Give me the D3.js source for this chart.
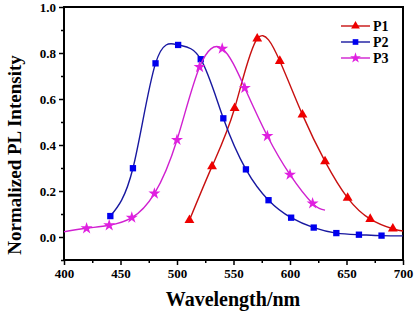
<!DOCTYPE html>
<html>
<head>
<meta charset="utf-8">
<script src="https://cdn.jsdelivr.net/npm/d3@7"></script>
<style>
  html, body { margin: 0; padding: 0; background: #fff; }
  text { font-family: "Liberation Serif", "Times New Roman", serif; font-weight: bold; }
</style>
</head>
<body>
<div id="chart"></div>
<script>
// marker points (wavelength nm, normalized intensity)
const p1Wl = [511, 531, 551, 571, 591, 611, 631, 651, 671, 691];
const p1Val = [0.073, 0.307, 0.56, 0.862, 0.765, 0.532, 0.329, 0.17, 0.078, 0.036];
const p2Wl = [441, 461, 481, 501, 521, 541, 561, 581, 601, 621, 641, 661, 681];
const p2Val = [0.091, 0.299, 0.755, 0.835, 0.773, 0.516, 0.294, 0.16, 0.084, 0.041, 0.017, 0.01, 0.006];
const p3Wl = [420, 440, 460, 480, 500, 520, 540, 560, 580, 600, 620];
const p3Val = [0.038, 0.051, 0.084, 0.189, 0.422, 0.739, 0.819, 0.648, 0.439, 0.271, 0.146];

// curve ends without a marker
const p1Tail = [[700, 0.026]];
const p2Tail = [[700, 0.005]];
const p3Head = [[400, 0.023]];
const p3Tail = [[631, 0.117]];

const xTicks = [400, 450, 500, 550, 600, 650, 700];
const yTicks = [0.0, 0.2, 0.4, 0.6, 0.8, 1.0];
const seriesNames = ["P1", "P2", "P3"];

const W = 416, H = 316;
const margin = { top: 7, right: 13, bottom: 56, left: 64 };
const width = W - margin.left - margin.right;
const height = H - margin.top - margin.bottom;

const zip = (xs, ys) => xs.map((x, i) => [x, ys[i]]);
const series = [
  { name: "P1", pts: zip(p1Wl, p1Val), line: [...zip(p1Wl, p1Val), ...p1Tail],
    lineColor: "#c81010", color: "#ee0000", symbol: d3.symbolTriangle, size: 42 },
  { name: "P2", pts: zip(p2Wl, p2Val), line: [...zip(p2Wl, p2Val), ...p2Tail],
    lineColor: "#1818a0", color: "#0000ee", symbol: d3.symbolSquare, size: 40 },
  { name: "P3", pts: zip(p3Wl, p3Val), line: [...p3Head, ...zip(p3Wl, p3Val), ...p3Tail],
    lineColor: "#d020d0", color: "#e020e0", symbol: d3.symbolStar, size: 45 }
];

const svg = d3.select("#chart").append("svg")
  .attr("width", W).attr("height", H);
const g = svg.append("g")
  .attr("transform", `translate(${margin.left},${margin.top})`);

const x = d3.scaleLinear().domain([400, 700]).range([0, width]);
const y = d3.scaleLinear().domain([-0.1, 1.0]).range([height, 0]);

// minor ticks
g.append("g")
  .attr("transform", `translate(0,${height})`)
  .call(d3.axisBottom(x).tickValues(d3.range(425, 700, 50)).tickSize(3).tickFormat(""))
  .call(s => s.select(".domain").remove())
  .selectAll("line").attr("stroke-width", 1.5);
g.append("g")
  .call(d3.axisLeft(y).tickValues(d3.range(-0.1, 1.0, 0.2)).tickSize(3).tickFormat(""))
  .call(s => s.select(".domain").remove())
  .selectAll("line").attr("stroke-width", 1.5);

// major axes
const xAxis = g.append("g")
  .attr("transform", `translate(0,${height})`)
  .call(d3.axisBottom(x).tickValues(xTicks).tickSize(5).tickPadding(4).tickFormat(d3.format("d")));
xAxis.selectAll("text").style("font-size", "13px");
const yAxis = g.append("g")
  .call(d3.axisLeft(y).tickValues(yTicks).tickSize(5).tickPadding(3).tickFormat(d3.format(".1f")));
yAxis.selectAll("text").style("font-size", "13px");
[xAxis, yAxis].forEach(a => {
  a.select(".domain").remove();
  a.selectAll("line").attr("stroke-width", 1.5);
});

// frame
g.append("rect")
  .attr("width", width).attr("height", height)
  .attr("fill", "none").attr("stroke", "#000").attr("stroke-width", 2);

const line = d3.line()
  .x(d => x(d[0])).y(d => y(d[1]))
  .curve(d3.curveNatural);

series.forEach(s => {
  g.append("path")
    .datum(s.line)
    .attr("fill", "none")
    .attr("stroke", s.lineColor)
    .attr("stroke-width", 1.4)
    .attr("d", line);
  g.selectAll(null)
    .data(s.pts)
    .join("path")
    .attr("transform", d => `translate(${x(d[0])},${y(d[1])})`)
    .attr("d", d3.symbol(s.symbol, s.size))
    .attr("fill", s.color);
});

// legend
const legend = g.append("g").attr("transform", `translate(${341 - margin.left},${26 - margin.top})`);
series.forEach((s, i) => {
  const row = legend.append("g").attr("transform", `translate(0,${i * 16})`);
  row.append("line").attr("x1", 0).attr("x2", 29)
    .attr("stroke", s.lineColor).attr("stroke-width", 1.4);
  row.append("path").attr("transform", "translate(14.5,0)")
    .attr("d", d3.symbol(s.symbol, s.size * 0.8)).attr("fill", s.color);
  row.append("text").attr("x", 32).attr("dy", "0.35em")
    .style("font-size", "14px").text(seriesNames[i]);
});

// axis titles
svg.append("text")
  .attr("text-anchor", "middle")
  .attr("x", 233)
  .attr("y", 306)
  .style("font-size", "20px")
  .text("Wavelength/nm");
svg.append("text")
  .attr("text-anchor", "middle")
  .attr("transform", "translate(21,155) rotate(-90)")
  .style("font-size", "19px")
  .text("Normalized PL Intensity");
</script>
</body>
</html>
